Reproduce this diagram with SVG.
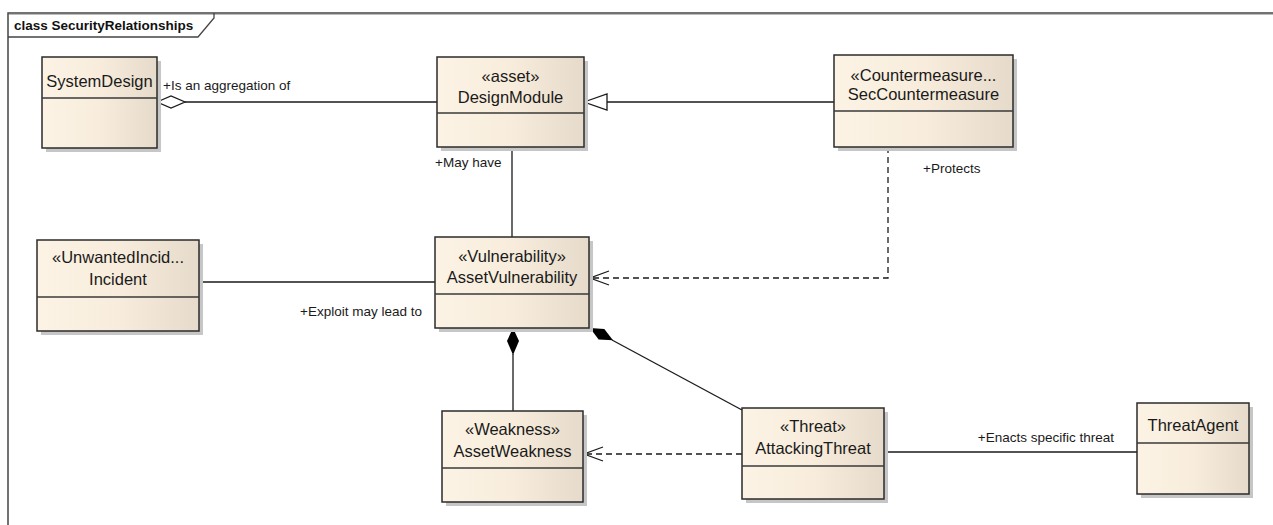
<svg xmlns="http://www.w3.org/2000/svg" width="1273" height="525" viewBox="0 0 1273 525">
<defs>
<linearGradient id="g" x1="0" y1="0" x2="1" y2="0">
<stop offset="0" stop-color="#FCF3E5"/>
<stop offset="0.5" stop-color="#F8EDDC"/>
<stop offset="1" stop-color="#E6DACA"/>
</linearGradient>
<style>
.sh{fill:#C6C6C6}
.box{fill:url(#g);stroke:#2B2B2B;stroke-width:1.5}
.div{stroke:#3A3A3A;stroke-width:1.5}
.nt{font-family:"Liberation Sans",Arial,sans-serif;font-size:16.5px;fill:#1A1A1A;text-anchor:middle}
.lb{font-family:"Liberation Sans",Arial,sans-serif;font-size:13.5px;fill:#1A1A1A}
.ln{stroke:#1A1A1A;stroke-width:1.3;fill:none}
.dl{stroke:#1A1A1A;stroke-width:1.3;fill:none;stroke-dasharray:6,4}
</style>
</defs>
<rect width="1273" height="525" fill="#FFFFFF"/>
<g id="frame">
<path d="M8,525 V13 H1273" fill="none" stroke="#444" stroke-width="1.5"/>
<path d="M9,14.5 H1273" stroke="#BBB" stroke-width="1"/>
<path d="M8,37 H198 L214,18 V13" fill="none" stroke="#444" stroke-width="1.3"/>
<text x="14" y="30" style="font-family:'Liberation Sans',Arial,sans-serif;font-size:13.5px;font-weight:bold;fill:#111">class SecurityRelationships</text>
</g>
<g id="connectors">
<line class="ln" x1="185" y1="102" x2="437" y2="102"/>
<polygon points="157,102 171,96 185,102 171,108" fill="#FFF" stroke="#1A1A1A" stroke-width="1.3"/>
<line class="ln" x1="834" y1="102" x2="607" y2="102"/>
<polygon points="584,102 607,94 607,110" fill="#FFF" stroke="#1A1A1A" stroke-width="1.3"/>
<line class="ln" x1="512" y1="147" x2="512" y2="237"/>
<path class="dl" d="M888,147 V278 H591"/>
<path class="ln" d="M609,271 L590,278 L609,285"/>
<line class="ln" x1="199" y1="282" x2="435" y2="282"/>
<line class="ln" x1="513" y1="354" x2="513" y2="411"/>
<polygon points="513,328 519,341 513,355 507,341" fill="#000"/>
<line class="ln" x1="612" y1="340" x2="742" y2="410"/>
<polygon points="590,328 604.3,328.9 613,340.3 598.6,339.5" fill="#000"/>
<path class="dl" d="M742,454 H585"/>
<path class="ln" d="M603,447 L584,454 L603,461"/>
<line class="ln" x1="884" y1="452" x2="1137" y2="452"/>
<text class="lb" x="163" y="90">+Is an aggregation of</text>
<text class="lb" x="435" y="167">+May have</text>
<text class="lb" x="923" y="173">+Protects</text>
<text class="lb" x="422" y="316" text-anchor="end">+Exploit may lead to</text>
<text class="lb" x="1114" y="442" text-anchor="end">+Enacts specific threat</text>
</g>
<g id="SystemDesign">
<rect class="sh" x="46" y="61" width="115" height="91"/>
<rect class="box" x="42" y="57" width="115" height="91"/>
<line class="div" x1="42" y1="98" x2="157" y2="98"/>
<text class="nt" x="99.5" y="87">SystemDesign</text>
</g>
<g id="DesignModule">
<rect class="sh" x="441" y="61" width="147" height="90"/>
<rect class="box" x="437" y="57" width="147" height="90"/>
<line class="div" x1="437" y1="113" x2="584" y2="113"/>
<text class="nt" x="510.5" y="82">«asset»</text>
<text class="nt" x="510.5" y="103">DesignModule</text>
</g>
<g id="SecCountermeasure">
<rect class="sh" x="838" y="59" width="179" height="92"/>
<rect class="box" x="834" y="55" width="179" height="92"/>
<line class="div" x1="834" y1="111" x2="1013" y2="111"/>
<text class="nt" x="923.5" y="81">«Countermeasure...</text>
<text class="nt" x="923.5" y="100">SecCountermeasure</text>
</g>
<g id="Incident">
<rect class="sh" x="41" y="244" width="162" height="91"/>
<rect class="box" x="37" y="240" width="162" height="91"/>
<line class="div" x1="37" y1="297" x2="199" y2="297"/>
<text class="nt" x="118" y="263">«UnwantedIncid...</text>
<text class="nt" x="118" y="285">Incident</text>
</g>
<g id="AssetVulnerability">
<rect class="sh" x="439" y="241" width="154" height="91"/>
<rect class="box" x="435" y="237" width="154" height="91"/>
<line class="div" x1="435" y1="294" x2="589" y2="294"/>
<text class="nt" x="512" y="262">«Vulnerability»</text>
<text class="nt" x="512" y="283">AssetVulnerability</text>
</g>
<g id="AssetWeakness">
<rect class="sh" x="446" y="415" width="141" height="91"/>
<rect class="box" x="442" y="411" width="141" height="91"/>
<line class="div" x1="442" y1="468" x2="583" y2="468"/>
<text class="nt" x="512.5" y="435">«Weakness»</text>
<text class="nt" x="512.5" y="457">AssetWeakness</text>
</g>
<g id="AttackingThreat">
<rect class="sh" x="746" y="412" width="142" height="91"/>
<rect class="box" x="742" y="408" width="142" height="91"/>
<line class="div" x1="742" y1="466" x2="884" y2="466"/>
<text class="nt" x="813" y="432">«Threat»</text>
<text class="nt" x="813" y="454">AttackingThreat</text>
</g>
<g id="ThreatAgent">
<rect class="sh" x="1141" y="407" width="112" height="91"/>
<rect class="box" x="1137" y="403" width="112" height="91"/>
<line class="div" x1="1137" y1="443" x2="1249" y2="443"/>
<text class="nt" x="1193" y="431">ThreatAgent</text>
</g>
</svg>
